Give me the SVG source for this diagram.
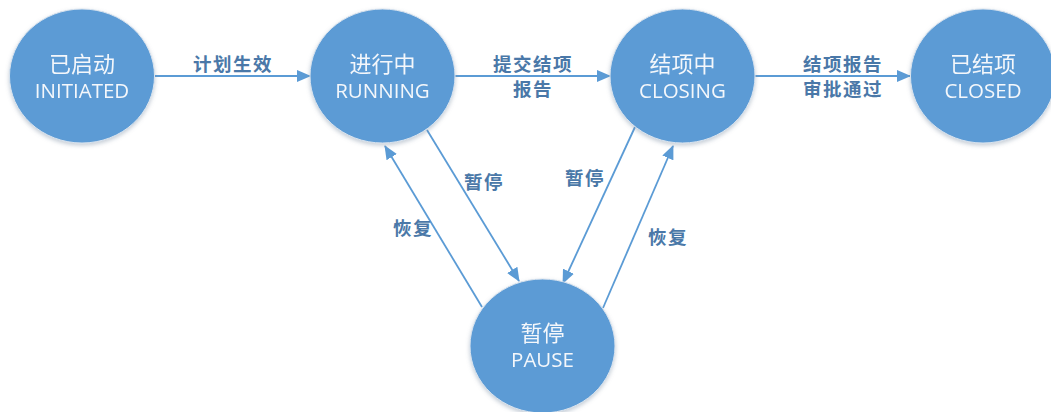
<svg xmlns="http://www.w3.org/2000/svg" width="1051" height="412" viewBox="0 0 1051 412">
<style>
.node{fill:#5b9bd5;stroke:#d9e3ee;stroke-width:1}
.cn{font-family:"Noto Sans CJK SC",sans-serif;font-size:22px;fill:#f4f7fb;text-anchor:middle}
.en{font-family:"Open Sans","Noto Sans CJK SC",sans-serif;font-size:20.5px;fill:#f4f7fb;text-anchor:middle}
.lbl{font-family:"Noto Sans CJK SC",sans-serif;font-size:18.5px;font-weight:bold;fill:#4a78a8;text-anchor:middle;letter-spacing:1.5px}
.edge{stroke:#5b9bd5;stroke-width:1.8;fill:none;marker-end:url(#arr)}
</style>
<defs>
<marker id="arr" markerUnits="userSpaceOnUse" markerWidth="14" markerHeight="12" refX="13" refY="6" orient="auto">
<path d="M0,0 L14,6 L0,12 z" fill="#5b9bd5"/>
</marker>
<filter id="sh" x="-20%" y="-20%" width="140%" height="140%">
<feDropShadow dx="0" dy="2" stdDeviation="2" flood-color="#7a8ea3" flood-opacity="0.45"/>
</filter>
</defs>
<rect width="1051" height="412" fill="#ffffff"/>
<g id="connectors">
<line class="edge" x1="154" y1="76" x2="310" y2="76"/>
<line class="edge" x1="455" y1="76" x2="610" y2="76"/>
<line class="edge" x1="755" y1="76" x2="910" y2="76"/>
<line class="edge" x1="427" y1="130" x2="519" y2="281"/>
<line class="edge" x1="482" y1="307" x2="385" y2="146"/>
<line class="edge" x1="635" y1="127" x2="563" y2="283"/>
<line class="edge" x1="603" y1="308" x2="673" y2="146"/>
<text class="lbl" x="233" y="71">计划生效</text>
<text class="lbl" x="533" y="71">提交结项</text>
<text class="lbl" x="533" y="96">报告</text>
<text class="lbl" x="843" y="71">结项报告</text>
<text class="lbl" x="843" y="96">审批通过</text>
<text class="lbl" x="484" y="189">暂停</text>
<text class="lbl" x="413" y="235">恢复</text>
<text class="lbl" x="585" y="185">暂停</text>
<text class="lbl" x="668" y="244">恢复</text>
</g>
<g id="initiated" filter="url(#sh)">
<ellipse class="node" cx="82" cy="76" rx="72.5" ry="67"/>
<text class="cn" x="82" y="72">已启动</text>
<text class="en" x="82" y="98">INITIATED</text>
</g>
<g id="running" filter="url(#sh)">
<ellipse class="node" cx="382.5" cy="76" rx="72.5" ry="67"/>
<text class="cn" x="382.5" y="72">进行中</text>
<text class="en" x="382.5" y="98">RUNNING</text>
</g>
<g id="closing" filter="url(#sh)">
<ellipse class="node" cx="682.5" cy="76" rx="72.5" ry="67"/>
<text class="cn" x="682.5" y="72">结项中</text>
<text class="en" x="682.5" y="98">CLOSING</text>
</g>
<g id="closed" filter="url(#sh)">
<ellipse class="node" cx="983" cy="76" rx="72.5" ry="67"/>
<text class="cn" x="983" y="72">已结项</text>
<text class="en" x="983" y="98">CLOSED</text>
</g>
<g id="pause" filter="url(#sh)">
<ellipse class="node" cx="542.5" cy="346" rx="72.5" ry="67"/>
<text class="cn" x="542.5" y="341">暂停</text>
<text class="en" x="542.5" y="367">PAUSE</text>
</g>
</svg>
